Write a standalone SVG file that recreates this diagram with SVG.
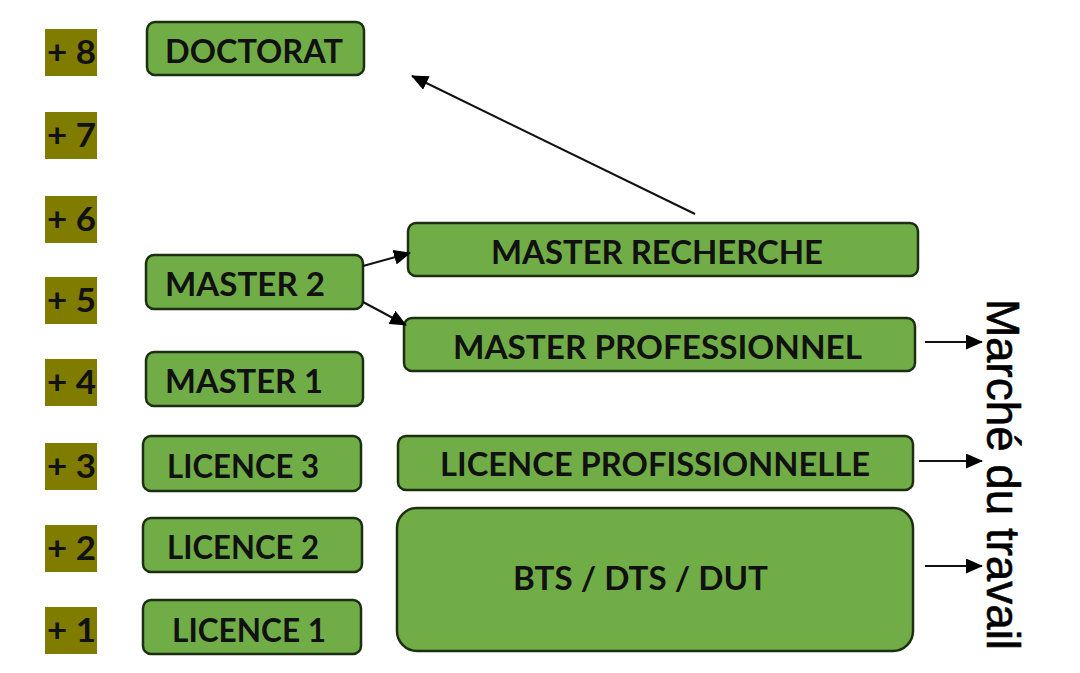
<svg xmlns="http://www.w3.org/2000/svg" width="1080" height="673" viewBox="0 0 1080 673">
<style>
.lvl{fill:#807c00}
.lvlt{font-family:Lato,"Liberation Sans",sans-serif;font-weight:bold;font-size:32px;fill:#111}
.box{fill:#70ad47;stroke:#1d2f12;stroke-width:2.5}
.bt{font-family:Lato,"Liberation Sans",sans-serif;font-weight:bold;font-size:32px;fill:#111}
.con{stroke:#111;stroke-width:2;fill:none;marker-end:url(#ah)}
.side{font-family:"Liberation Sans",Arial,sans-serif;font-size:46px;fill:#000;stroke:#000;stroke-width:0.6}
</style>
<defs>
<marker id="ah" markerUnits="userSpaceOnUse" markerWidth="17" markerHeight="15" refX="16" refY="7.5" orient="auto">
<path d="M0,0 L17,7.5 L0,15 z" fill="#000"/>
</marker>
</defs>
<rect width="1080" height="673" fill="#fff"/>

<g id="levels">
<rect class="lvl" x="45" y="29" width="52" height="47"/><text class="lvlt" x="47" y="64" textLength="49" lengthAdjust="spacingAndGlyphs">+ 8</text>
<rect class="lvl" x="45" y="112" width="52" height="47"/><text class="lvlt" x="47" y="147" textLength="49" lengthAdjust="spacingAndGlyphs">+ 7</text>
<rect class="lvl" x="45" y="196" width="52" height="47"/><text class="lvlt" x="47" y="231" textLength="49" lengthAdjust="spacingAndGlyphs">+ 6</text>
<rect class="lvl" x="45" y="277" width="52" height="47"/><text class="lvlt" x="47" y="312" textLength="49" lengthAdjust="spacingAndGlyphs">+ 5</text>
<rect class="lvl" x="45" y="359" width="52" height="47"/><text class="lvlt" x="47" y="394" textLength="49" lengthAdjust="spacingAndGlyphs">+ 4</text>
<rect class="lvl" x="45" y="443" width="52" height="47"/><text class="lvlt" x="47" y="478" textLength="49" lengthAdjust="spacingAndGlyphs">+ 3</text>
<rect class="lvl" x="45" y="525" width="52" height="47"/><text class="lvlt" x="47" y="560" textLength="49" lengthAdjust="spacingAndGlyphs">+ 2</text>
<rect class="lvl" x="45" y="607" width="52" height="47"/><text class="lvlt" x="47" y="642" textLength="49" lengthAdjust="spacingAndGlyphs">+ 1</text>
</g>

<g id="doctorat"><rect class="box" x="147" y="22" width="217" height="53" rx="8"/><text class="bt" x="165" y="63" textLength="178" lengthAdjust="spacingAndGlyphs">DOCTORAT</text></g>
<g id="master2"><rect class="box" x="146" y="255" width="217" height="54" rx="8"/><text class="bt" x="165" y="296" textLength="160" lengthAdjust="spacingAndGlyphs">MASTER 2</text></g>
<g id="master1"><rect class="box" x="146" y="352" width="217" height="54" rx="8"/><text class="bt" x="165" y="393" textLength="158" lengthAdjust="spacingAndGlyphs">MASTER 1</text></g>
<g id="licence3"><rect class="box" x="143" y="436" width="218" height="55" rx="8"/><text class="bt" x="167" y="478" textLength="152" lengthAdjust="spacingAndGlyphs">LICENCE 3</text></g>
<g id="licence2"><rect class="box" x="143" y="518" width="219" height="54" rx="8"/><text class="bt" x="167" y="559" textLength="152" lengthAdjust="spacingAndGlyphs">LICENCE 2</text></g>
<g id="licence1"><rect class="box" x="143" y="600" width="218" height="54" rx="8"/><text class="bt" x="172" y="642" textLength="154" lengthAdjust="spacingAndGlyphs">LICENCE 1</text></g>

<g id="master-recherche"><rect class="box" x="408" y="223" width="510" height="53" rx="8"/><text class="bt" x="491" y="264" textLength="332" lengthAdjust="spacingAndGlyphs">MASTER RECHERCHE</text></g>
<g id="master-pro"><rect class="box" x="404" y="318" width="511" height="53" rx="8"/><text class="bt" x="453" y="359" textLength="409" lengthAdjust="spacingAndGlyphs">MASTER PROFESSIONNEL</text></g>
<g id="licence-pro"><rect class="box" x="398" y="436" width="515" height="54" rx="8"/><text class="bt" x="440" y="476" textLength="430" lengthAdjust="spacingAndGlyphs">LICENCE PROFISSIONNELLE</text></g>
<g id="bts"><rect class="box" x="397" y="508" width="516" height="143" rx="20"/><text class="bt" x="513" y="590" textLength="255" lengthAdjust="spacingAndGlyphs">BTS / DTS / DUT</text></g>

<g id="connectors">
<line class="con" x1="695" y1="214" x2="412" y2="76"/>
<line class="con" x1="363" y1="266" x2="410" y2="253"/>
<line class="con" x1="363" y1="302" x2="406" y2="325"/>
<line class="con" x1="925" y1="342" x2="982" y2="342"/>
<line class="con" x1="919" y1="461" x2="982" y2="461"/>
<line class="con" x1="925" y1="566" x2="982" y2="566"/>
</g>

<g id="marche"><text class="side" transform="translate(987,299) rotate(90)" textLength="351" lengthAdjust="spacingAndGlyphs">Marché du travail</text></g>
</svg>
